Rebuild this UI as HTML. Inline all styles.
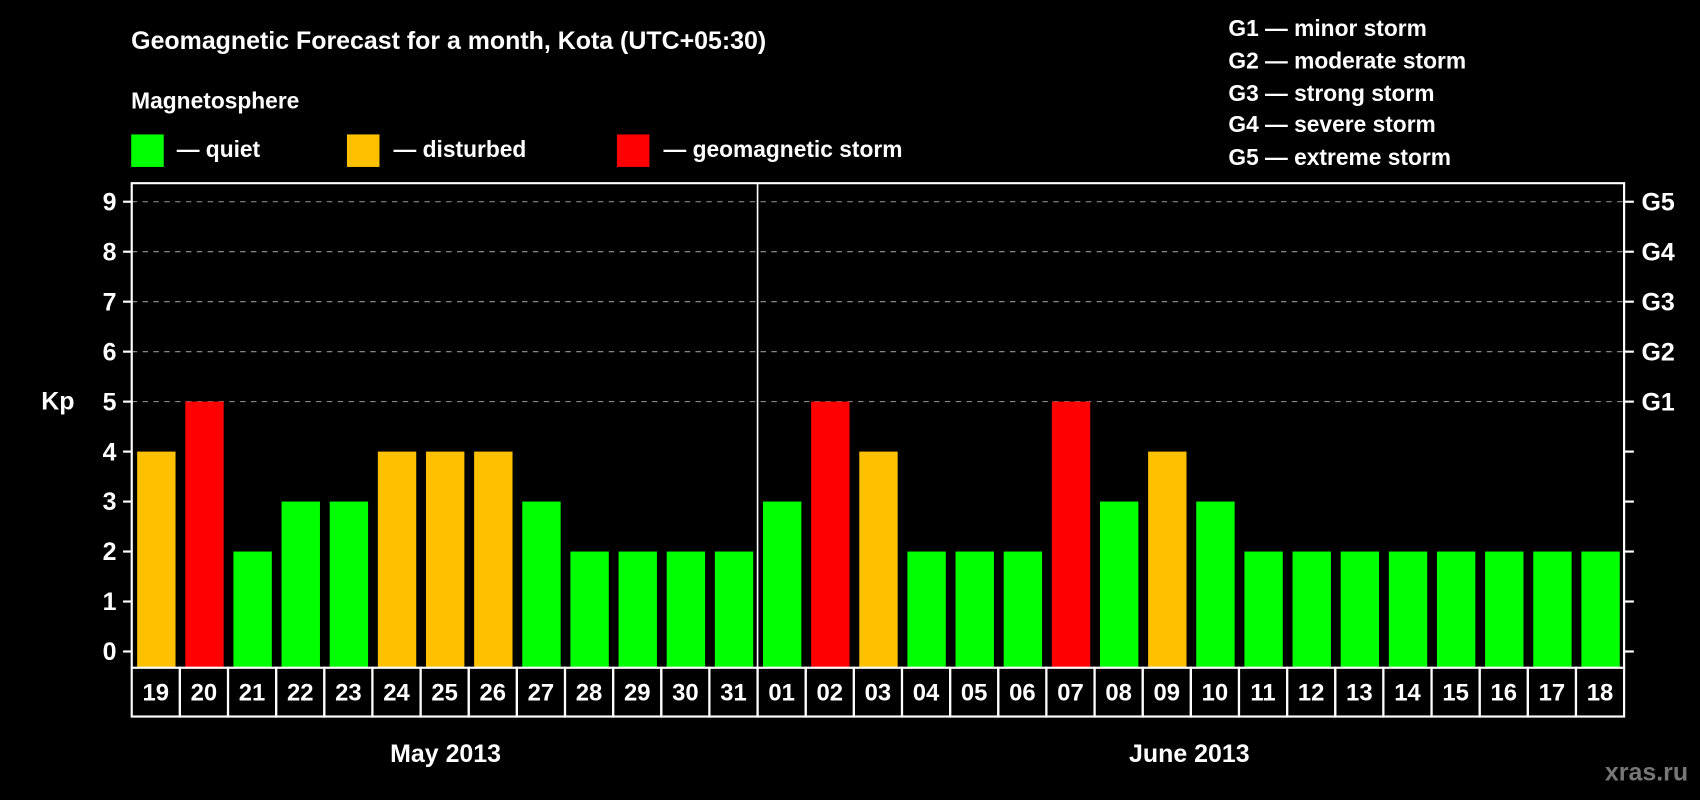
<!DOCTYPE html>
<html><head><meta charset="utf-8"><style>
html,body{margin:0;padding:0;background:#000;}
svg{display:block;font-family:"Liberation Sans",sans-serif;font-weight:bold;}
</style></head><body>
<svg id="chart" width="1700" height="800" viewBox="0 0 1568 738" preserveAspectRatio="none" xmlns="http://www.w3.org/2000/svg">
<rect width="1568" height="738" fill="#000"/>
<text x="121" y="45" fill="#fff" font-size="23">Geomagnetic Forecast for a month, Kota (UTC+05:30)</text>
<text x="121" y="100" fill="#fff" font-size="21">Magnetosphere</text>
<g><rect x="121" y="124" width="30" height="30" fill="#00ff00"/><text x="163" y="145" fill="#fff" font-size="21">— quiet</text></g>
<g><rect x="320" y="124" width="30" height="30" fill="#ffc000"/><text x="363" y="145" fill="#fff" font-size="21">— disturbed</text></g>
<g><rect x="569" y="124" width="30" height="30" fill="#ff0000"/><text x="612" y="145" fill="#fff" font-size="21">— geomagnetic storm</text></g>
<g fill="#fff" font-size="21">
<text x="1133" y="33">G1 — minor storm</text>
<text x="1133" y="63">G2 — moderate storm</text>
<text x="1133" y="93">G3 — strong storm</text>
<text x="1133" y="122">G4 — severe storm</text>
<text x="1133" y="152">G5 — extreme storm</text>
</g>
<text x="38" y="378" fill="#fff" font-size="23">Kp</text>
<g id="grid"></g>
<g id="bars"></g>
<g id="axes"></g>
<text x="411" y="703" fill="#fff" font-size="23" text-anchor="middle">May 2013</text>
<text x="1097" y="703" fill="#fff" font-size="23" text-anchor="middle">June 2013</text>
<text x="1557" y="720" fill="#777" font-size="23" text-anchor="end">xras.ru</text>
</svg>
<script>
const days = ["19","20","21","22","23","24","25","26","27","28","29","30","31","01","02","03","04","05","06","07","08","09","10","11","12","13","14","15","16","17","18"];
const kp = [4,5,2,3,3,4,4,4,3,2,2,2,2,3,5,4,2,2,2,5,3,4,3,2,2,2,2,2,2,2,2];
const yTicks = [0,1,2,3,4,5,6,7,8,9];
const gLabels = ["G1","G2","G3","G4","G5"];
const NS="http://www.w3.org/2000/svg";
const L=121.5,R=1498,T=169,B=616,BOX=661;
const slotW=(R-L)/days.length;
function y(v){return 601-v*46.1;}
function xs(i){return L+i*slotW;}
function mk(tag,attrs,parent){const e=document.createElementNS(NS,tag);for(const k in attrs)e.setAttribute(k,attrs[k]);parent.appendChild(e);return e;}
function color(v){return v>=5?"#ff0000":(v>=4?"#ffc000":"#00ff00");}
const grid=document.getElementById("grid"),bars=document.getElementById("bars"),axes=document.getElementById("axes");
for(let v=5;v<=9;v++){
  const l=mk("line",{x1:L,x2:R,y1:y(v),y2:y(v),stroke:"#999","stroke-width":1,"stroke-dasharray":"5,5"},grid);
  
  
}
kp.forEach((v,i)=>{
  const r=mk("rect",{x:xs(i)+5,y:y(v),width:slotW-9,height:B-y(v),fill:color(v)},bars);
  
  
});
// frame
mk("polyline",{points:`${L},${B} ${L},${T} ${R},${T} ${R},${B}`,fill:"none",stroke:"#fff","stroke-width":2},axes);
const mid=mk("line",{x1:xs(13),x2:xs(13),y1:T,y2:BOX,stroke:"#fff","stroke-width":1.5},axes);


yTicks.forEach(v=>{
  mk("line",{x1:L-8,x2:L,y1:y(v),y2:y(v),stroke:"#fff","stroke-width":2},axes);
  mk("line",{x1:R,x2:R+9,y1:y(v),y2:y(v),stroke:"#fff","stroke-width":2},axes);
  const t=mk("text",{x:L-14,y:y(v)+8,fill:"#fff","font-size":23,"text-anchor":"end"},axes);
  t.textContent=v;
  
  
});
gLabels.forEach((g,i)=>{
  const t=mk("text",{x:R+16,y:y(5+i)+8,fill:"#fff","font-size":23},axes);
  t.textContent=g;
  
  
});
days.forEach((d,i)=>{
  const r=mk("rect",{x:xs(i),y:B,width:slotW,height:BOX-B,fill:"none",stroke:"#fff","stroke-width":2},axes);
  
  
  const t=mk("text",{x:xs(i)+slotW/2,y:646,fill:"#fff","font-size":22,"text-anchor":"middle"},axes);
  t.textContent=d;
  
  
});
</script>
</body></html>
